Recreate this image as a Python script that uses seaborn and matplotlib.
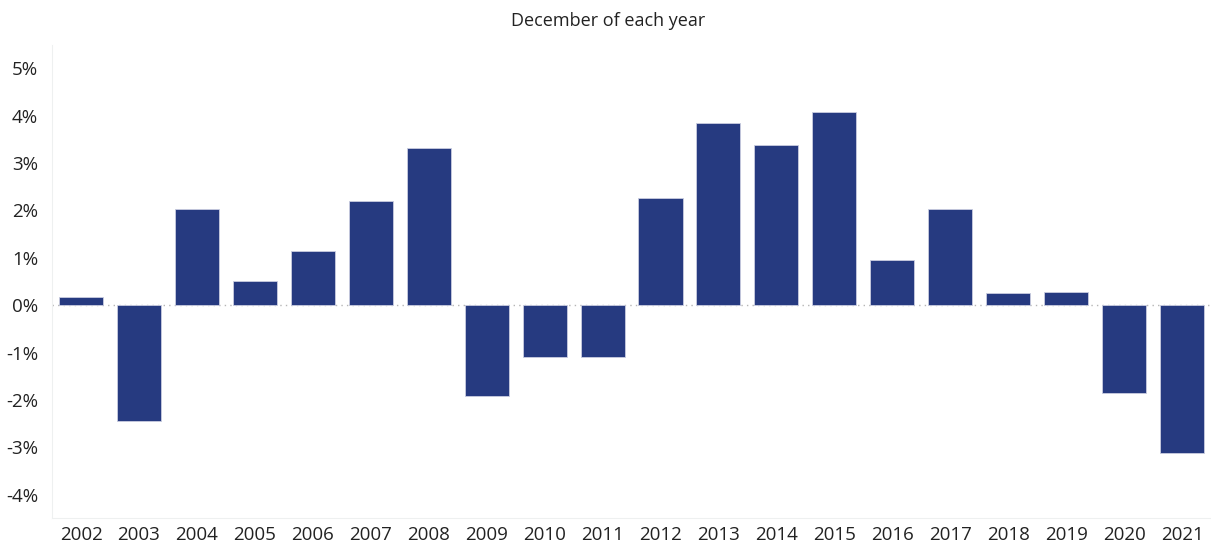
import numpy as np
import pandas as pd
import seaborn as sns
import matplotlib.pyplot as plt
from matplotlib.ticker import FuncFormatter

# Values (percent change, December of each year)
years = [str(y) for y in range(2002, 2022)]
change = [0.17, -2.45, 2.03, 0.51, 1.14, 2.19, 3.31, -1.92, -1.10, -1.10,
          2.26, 3.84, 3.38, 4.07, 0.95, 2.03, 0.25, 0.27, -1.86, -3.12]
y_ticks = [-4, -3, -2, -1, 0, 1, 2, 3, 4, 5]

df = pd.DataFrame({'year': years, 'change': change})

sns.set_style('white')
plt.rcParams['font.family'] = ['Open Sans', 'DejaVu Sans']

fig = plt.figure(figsize=(12.11, 5.44), dpi=100)
ax = fig.add_axes([0.043, 0.048, 0.957, 0.869])

sns.barplot(data=df, x='year', y='change', color='#263a80', saturation=1,
            width=0.76, ax=ax, edgecolor='#c9cde0', linewidth=0.6)

# dotted zero line
ax.axhline(0, color='#b5b5b5', linestyle=(0, (1, 3)), linewidth=1, zorder=0)

ax.set_xlim(-0.5, len(years) - 0.5)
ax.set_ylim(-4.49, 5.49)
ax.set_yticks(y_ticks)
ax.yaxis.set_major_formatter(FuncFormatter(lambda v, p: f'{v:.0f}%'))
ax.set_xlabel('')
ax.set_ylabel('')

for side in ['top', 'right']:
    ax.spines[side].set_visible(False)
ax.spines['left'].set_color('#eef0f0')
ax.spines['bottom'].set_color('#eef0f0')

# small separators between categories on the x axis
ax.set_xticks(np.arange(len(years)) - 0.5, minor=True)
ax.tick_params(axis='x', which='minor', length=6, color='#e8eaea', width=1)
ax.tick_params(axis='x', which='major', length=0, labelsize=13.5,
               labelcolor='#222222', pad=6)
ax.tick_params(axis='y', length=0, labelsize=13.5, labelcolor='#222222', pad=10)

fig.text(0.502, 0.962, 'December of each year', ha='center', va='center',
         fontsize=13, color='#222222')

plt.savefig('out.png', dpi=100)
